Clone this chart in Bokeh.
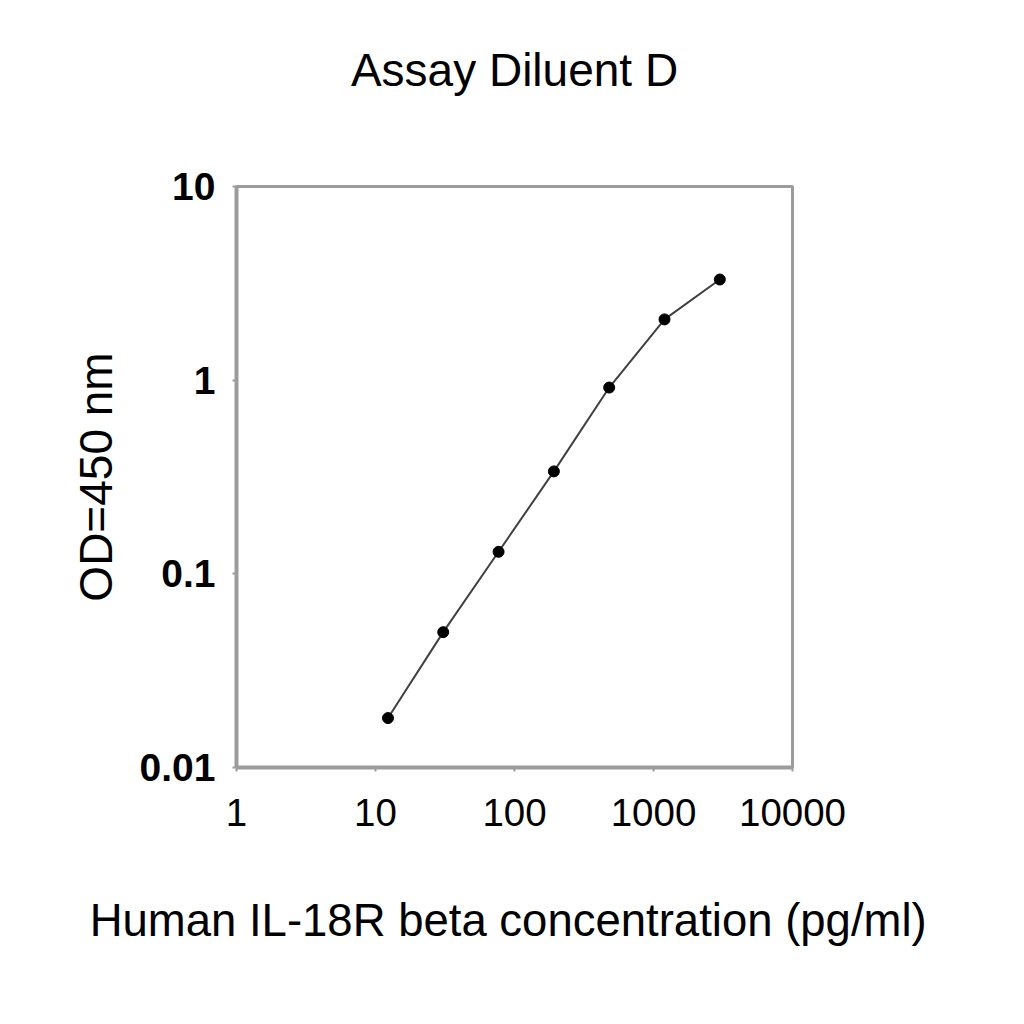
from bokeh.plotting import figure
from bokeh.models import FixedTicker, Range1d, Title
from bokeh.embed import file_html
from bokeh.resources import INLINE

# Data
conc = [12.3, 30.7, 76.8, 192, 480, 1200, 3000]
od = [0.018, 0.050, 0.130, 0.338, 0.916, 2.06, 3.31]

x_ticks = [1, 10, 100, 1000, 10000]
x_tick_labels = ["1", "10", "100", "1000", "10000"]
y_ticks = [0.01, 0.1, 1, 10]
y_tick_labels = ["0.01", "0.1", "1", "10"]

title_text = "Assay Diluent D"
x_label = "Human IL-18R beta  concentration (pg/ml)"
y_label = "OD=450 nm"

FONT = "Liberation Sans"
GRAY = "#9c9c9c"

p = figure(width=1008, height=1008,
           x_axis_type="log", y_axis_type="log",
           x_range=Range1d(x_ticks[0], x_ticks[-1]),
           y_range=Range1d(y_ticks[0], y_ticks[-1]),
           output_backend="svg", toolbar_location=None,
           min_border_left=236, min_border_right=216,
           min_border_top=186, min_border_bottom=241)
p.title = None

# invisible spacer between the frame and the title
spacer = Title(text=" ", text_font_size="1px", standoff=88)
p.add_layout(spacer, "above")

title = Title(text=title_text, align="center", text_font=FONT,
              text_font_size="46px", text_font_style="normal",
              text_color="black", standoff=0)
p.add_layout(title, "above")

p.xgrid.visible = False
p.ygrid.visible = False
p.outline_line_color = GRAY
p.outline_line_width = 3
p.background_fill_color = "white"
p.border_fill_color = "white"

p.line(conc, od, line_color="#404040", line_width=2)
p.scatter(conc, od, size=11, fill_color="black", line_color="black")

xa = p.xaxis[0]
xa.ticker = FixedTicker(ticks=x_ticks, minor_ticks=[])
xa.major_label_overrides = {t: l for t, l in zip(x_ticks, x_tick_labels)}
xa.axis_label = x_label
xa.axis_label_text_font = FONT
xa.axis_label_text_font_size = "45.5px"
xa.axis_label_text_font_style = "normal"
xa.axis_label_text_color = "black"
xa.axis_label_standoff = 66
xa.major_label_text_font = FONT
xa.major_label_text_font_size = "38.5px"
xa.major_label_text_color = "black"
xa.major_label_standoff = 27
xa.axis_line_color = GRAY
xa.axis_line_width = 4
xa.major_tick_line_color = GRAY
xa.major_tick_line_width = 2
xa.major_tick_in = 0
xa.major_tick_out = 4
xa.minor_tick_line_color = None

ya = p.yaxis[0]
ya.ticker = FixedTicker(ticks=y_ticks, minor_ticks=[])
ya.major_label_overrides = {t: l for t, l in zip(y_ticks, y_tick_labels)}
ya.axis_label = y_label
ya.axis_label_text_font = FONT
ya.axis_label_text_font_size = "46px"
ya.axis_label_text_font_style = "normal"
ya.axis_label_text_color = "black"
ya.axis_label_standoff = 15
ya.major_label_text_font = FONT
ya.major_label_text_font_size = "39px"
ya.major_label_text_font_style = "bold"
ya.major_label_text_color = "black"
ya.major_label_standoff = 17
ya.axis_line_color = GRAY
ya.axis_line_width = 4
ya.major_tick_line_color = GRAY
ya.major_tick_line_width = 2
ya.major_tick_in = 0
ya.major_tick_out = 4
ya.minor_tick_line_color = None

open("out.html", "w").write(file_html(p, INLINE))
